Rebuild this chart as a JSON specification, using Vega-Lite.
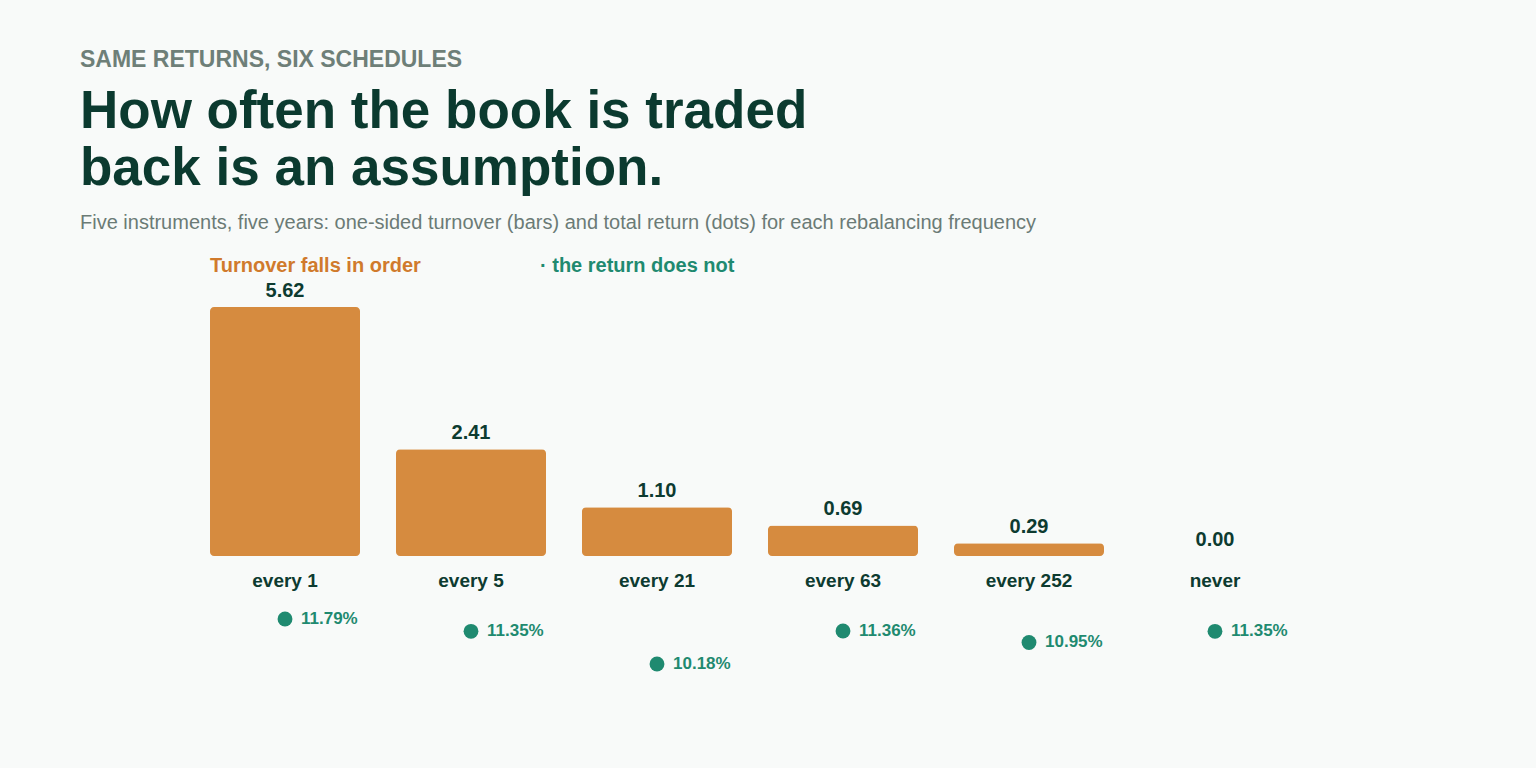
{
  "$schema": "https://vega.github.io/schema/vega-lite/v6.json",
  "background": "#f8faf9",
  "padding": {"left": 80, "top": 49, "right": 228, "bottom": 67},
  "title": {
    "text": "SAME RETURNS, SIX SCHEDULES",
    "subtitle": ["How often the book is traded", "back is an assumption."],
    "anchor": "start",
    "frame": "group",
    "dx": -112,
    "font": "Liberation Sans",
    "fontSize": 23,
    "fontWeight": "bold",
    "color": "#6e7f78",
    "subtitleFont": "Liberation Sans",
    "subtitleFontSize": 53,
    "subtitleFontWeight": "bold",
    "subtitleColor": "#0b3a2f",
    "subtitleLineHeight": 57,
    "subtitlePadding": 14,
    "offset": 17
  },
  "vconcat": [
    {
      "title": {
        "text": "Five instruments, five years: one-sided turnover (bars) and total return (dots) for each rebalancing frequency",
        "anchor": "start",
        "frame": "group",
        "dx": -112,
        "font": "Liberation Sans",
        "fontSize": 20,
        "fontWeight": "normal",
        "color": "#6b7b76",
        "offset": 18
      },
      "width": 1116,
      "height": 450,
      "data": {
        "values": [
          {"schedule": "every 1", "turnover": 5.62, "ret": 0.1179},
          {"schedule": "every 5", "turnover": 2.41, "ret": 0.1135},
          {"schedule": "every 21", "turnover": 1.10, "ret": 0.1018},
          {"schedule": "every 63", "turnover": 0.69, "ret": 0.1136},
          {"schedule": "every 252", "turnover": 0.29, "ret": 0.1095},
          {"schedule": "never", "turnover": 0.00, "ret": 0.1135}
        ]
      },
      "layer": [
        {
          "mark": {"type": "bar", "color": "#d68b3f", "cornerRadius": 4},
          "encoding": {
            "x": {
              "field": "schedule",
              "type": "nominal",
              "sort": null,
              "scale": {"paddingInner": 0.1935, "paddingOuter": 0.0968},
              "axis": {
                "orient": "bottom",
                "title": null,
                "domain": false,
                "ticks": false,
                "grid": false,
                "offset": -130,
                "labelPadding": 0,
                "labelAngle": 0,
                "labelFont": "Liberation Sans",
                "labelFontSize": 19,
                "labelFontWeight": "bold",
                "labelColor": "#0d3b30"
              }
            },
            "y": {
              "field": "turnover",
              "type": "quantitative",
              "scale": {"domain": [-3.273, 6.884], "nice": false, "zero": false},
              "axis": null
            }
          }
        },
        {
          "mark": {
            "type": "text",
            "font": "Liberation Sans",
            "fontSize": 20,
            "fontWeight": "bold",
            "color": "#0d3b30",
            "baseline": "alphabetic",
            "dy": -10
          },
          "encoding": {
            "x": {"field": "schedule", "type": "nominal", "sort": null},
            "y": {
              "field": "turnover",
              "type": "quantitative",
              "scale": {"domain": [-3.273, 6.884], "nice": false, "zero": false},
              "axis": null
            },
            "text": {"field": "turnover", "type": "quantitative", "format": ".2f"}
          }
        },
        {
          "mark": {"type": "circle", "color": "#1f8a70", "opacity": 1, "size": 220},
          "encoding": {
            "x": {"field": "schedule", "type": "nominal", "sort": null},
            "y": {
              "field": "ret",
              "type": "quantitative",
              "scale": {"domain": [0.08856, 0.24956], "nice": false, "zero": false},
              "axis": null
            }
          }
        },
        {
          "mark": {
            "type": "text",
            "font": "Liberation Sans",
            "fontSize": 17,
            "fontWeight": "bold",
            "color": "#1f8a70",
            "align": "left",
            "baseline": "middle",
            "dx": 16
          },
          "encoding": {
            "x": {"field": "schedule", "type": "nominal", "sort": null},
            "y": {
              "field": "ret",
              "type": "quantitative",
              "scale": {"domain": [0.08856, 0.24956], "nice": false, "zero": false},
              "axis": null
            },
            "text": {"field": "ret", "type": "quantitative", "format": ".2%"}
          }
        },
        {
          "data": {"values": [{"label": "Turnover falls in order", "schedule": "every 1", "level": 6.546}]},
          "mark": {
            "type": "text",
            "font": "Liberation Sans",
            "fontSize": 20,
            "fontWeight": "bold",
            "color": "#d07a2c",
            "align": "left",
            "baseline": "middle"
          },
          "encoding": {
            "x": {"field": "schedule", "type": "nominal", "sort": null, "bandPosition": 0},
            "y": {
              "field": "level",
              "type": "quantitative",
              "scale": {"domain": [-3.273, 6.884], "nice": false, "zero": false},
              "axis": null
            },
            "text": {"field": "label"}
          }
        },
        {
          "data": {"values": [{"label": "· the return does not", "schedule": "every 5", "level": 6.546}]},
          "mark": {
            "type": "text",
            "font": "Liberation Sans",
            "fontSize": 20,
            "fontWeight": "bold",
            "color": "#1f8a70",
            "align": "left",
            "baseline": "middle",
            "dx": -6
          },
          "encoding": {
            "x": {"field": "schedule", "type": "nominal", "sort": null, "bandPosition": 1},
            "y": {
              "field": "level",
              "type": "quantitative",
              "scale": {"domain": [-3.273, 6.884], "nice": false, "zero": false},
              "axis": null
            },
            "text": {"field": "label"}
          }
        }
      ],
      "resolve": {"scale": {"y": "independent"}}
    }
  ],
  "config": {
    "view": {"stroke": null},
    "font": "Liberation Sans"
  }
}
